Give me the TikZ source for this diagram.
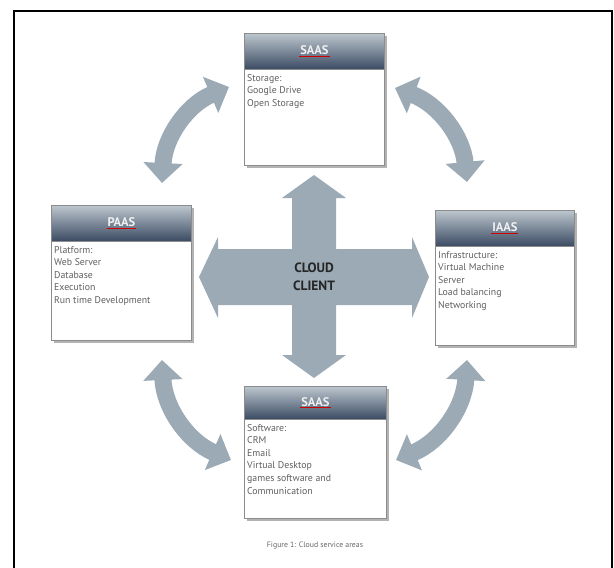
\documentclass[tikz,border=0pt]{standalone}
\usepackage{fontspec}
\setmainfont{PT Sans}
\usetikzlibrary{arrows.meta,shadows,decorations.pathmorphing}
\definecolor{arrowgray}{RGB}{155,170,180}
\definecolor{headlight}{RGB}{188,198,206}
\definecolor{headdark}{RGB}{58,74,98}
\definecolor{bodytextc}{RGB}{95,95,95}
\definecolor{boxborder}{RGB}{140,140,140}
\tikzset{
  boxbody/.style={draw=boxborder, line width=0.8pt, fill=white, anchor=north west, inner sep=0pt,
    drop shadow={shadow xshift=2.5pt, shadow yshift=-2.5pt, fill=black!50, opacity=0.6}},
  boxhead/.style={draw=boxborder, line width=0.8pt, anchor=north west, inner sep=0pt,
    top color=headlight, bottom color=headdark},
  titletxt/.style={inner sep=0.8pt, font=\bfseries\fontsize{12.5}{14}\selectfont, text=white!94!black},
  squiggle/.style={draw=red!80!black, line width=0.8pt},
  bodytxt/.style={anchor=north west, inner sep=0pt, align=left, font=\fontsize{9.8}{12.6}\selectfont, text=bodytextc},
  curvearrow/.style={draw=arrowgray, line width=17pt,
    {Triangle[width=38pt,length=20pt]}-{Triangle[width=38pt,length=20pt]}},
}
\begin{document}
\begin{tikzpicture}[x=1pt,y=-1pt]
\useasboundingbox (0,0) rectangle (614,568);
% frame
\draw[line width=1.5pt] (14,568) -- (14,11) -- (612,11) -- (612,568);

% central cross
\fill[arrowgray] (314,175) -- (346,198) -- (336,198) -- (336,249) -- (412,249) -- (412,237)
  -- (429,277) -- (412,318) -- (412,305) -- (336,305) -- (336,355) -- (346,355)
  -- (314,378) -- (282,355) -- (292,355) -- (292,305) -- (218,305) -- (218,318)
  -- (199,277) -- (218,237) -- (218,249) -- (292,249) -- (292,198) -- (282,198) -- cycle;
\node[align=center, font=\bfseries\fontsize{13.5}{18}\selectfont, text=black!85] (client) at (314,277) {CLOUD\\CLIENT};

% curved arrows
\coordinate (tla) at (162,183); \coordinate (tlb) at (229,87);
\coordinate (tra) at (395,88);  \coordinate (trb) at (467,182);
\coordinate (bra) at (467,360); \coordinate (brb) at (396,460);
\coordinate (bla) at (231,460); \coordinate (blb) at (162,360);
\draw[curvearrow] (tla) to[bend left=32] (tlb);
\draw[curvearrow] (tra) to[bend left=32] (trb);
\draw[curvearrow] (bra) to[bend left=32] (brb);
\draw[curvearrow] (bla) to[bend left=32] (blb);

% top SAAS
\node[boxbody, minimum width=140pt, minimum height=132pt] (saastop) at (244,33) {};
\node[boxhead, minimum width=140pt, minimum height=36pt] (saastophead) at (244,33) {};
\node[titletxt] (saastoptitle) at ([yshift=1pt]saastophead.center) {SAAS};
\draw[squiggle] (saastoptitle.south west) -- (saastoptitle.south east);
\node[bodytxt] (saastoptext) at (247,74) {Storage:\\Google Drive\\Open Storage};

% PAAS
\node[boxbody, minimum width=140pt, minimum height=135pt] (paas) at (51,205) {};
\node[boxhead, minimum width=140pt, minimum height=36pt] (paashead) at (51,205) {};
\node[titletxt] (paastitle) at ([yshift=1pt]paashead.center) {PAAS};
\draw[squiggle] (paastitle.south west) -- (paastitle.south east);
\node[bodytxt] (paastext) at (54,246) {Platform:\\Web Server\\Database\\Execution\\Run time Development};

% IAAS
\node[boxbody, minimum width=139pt, minimum height=135pt] (iaas) at (435,210) {};
\node[boxhead, minimum width=139pt, minimum height=36pt] (iaashead) at (435,210) {};
\node[titletxt] (iaastitle) at ([yshift=1pt]iaashead.center) {IAAS};
\draw[squiggle] (iaastitle.south west) -- (iaastitle.south east);
\node[bodytxt] (iaastext) at (438,251) {Infrastructure:\\Virtual Machine\\Server\\Load balancing\\Networking};

% bottom SAAS
\node[boxbody, minimum width=142pt, minimum height=132pt] (saasbot) at (244,386) {};
\node[boxhead, minimum width=142pt, minimum height=33pt] (saasbothead) at (244,386) {};
\node[titletxt] (saasbottitle) at ([yshift=1pt]saasbothead.center) {SAAS};
\draw[squiggle] (saasbottitle.south west) -- (saasbottitle.south east);
\node[bodytxt] (saasbottext) at (247,424) {Software:\\CRM\\Email\\Virtual Desktop\\games software and\\Communication};

% caption
\node[font=\fontsize{7.8}{9}\selectfont, text=black!60] (caption) at (315,546) {Figure 1: Cloud service areas};
\end{tikzpicture}
\end{document}
